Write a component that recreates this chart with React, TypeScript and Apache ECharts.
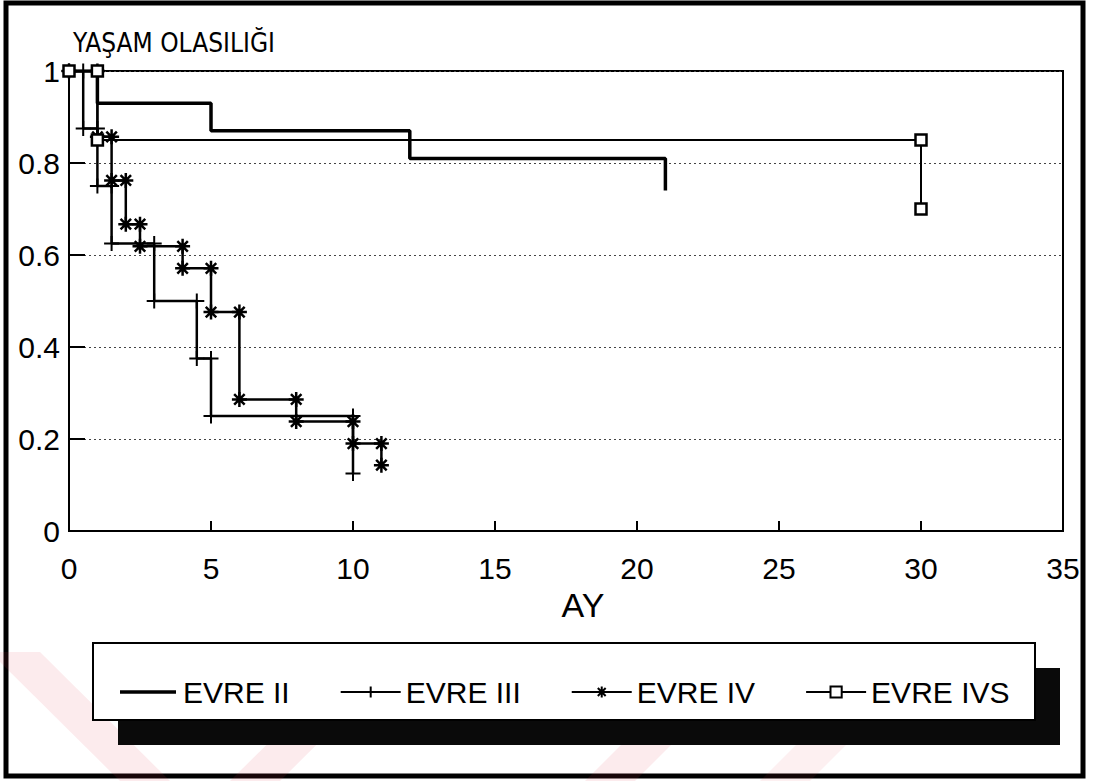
import React, { useEffect, useRef } from "react";
import * as echarts from "echarts";

// Kaplan–Meier survival by stage (months vs. survival probability)
const seriesNames = ["EVRE II", "EVRE III", "EVRE IV", "EVRE IVS"];

const evre2Months = [0, 1, 5, 12, 21];
const evre2Surv = [1, 0.93, 0.87, 0.81, 0.74];

const evre3Months = [0, 0.5, 1, 1.5, 3, 4.5, 5, 10];
const evre3Surv = [1, 0.875, 0.75, 0.625, 0.5, 0.375, 0.25, 0.125];

const evre4Months = [0, 1, 1.5, 2, 2.5, 4, 5, 6, 8, 10, 11];
const evre4Surv = [1, 0.857, 0.762, 0.667, 0.619, 0.571, 0.476, 0.286, 0.238, 0.19, 0.143];

const evre4sMonths = [0, 1, 30];
const evre4sSurv = [1, 0.85, 0.7];

const xTicks = [0, 5, 10, 15, 20, 25, 30, 35];
const yTicks = [0, 0.2, 0.4, 0.6, 0.8, 1];

const FONT = "'Liberation Sans', Arial, Helvetica, sans-serif";
const NARROW = "'Liberation Sans Narrow', 'DejaVu Sans Condensed', 'Liberation Sans', sans-serif";

// Expand event times / survival levels into the corner points of a step curve
function stepPoints(months: number[], surv: number[]): number[][] {
  const pts: number[][] = [[months[0], surv[0]]];
  for (let i = 1; i < months.length; i++) {
    pts.push([months[i], surv[i - 1]]);
    pts.push([months[i], surv[i]]);
  }
  return pts;
}

const PLUS = "path://M6,0L6,12M0,6L12,6";
const STAR = "path://M6,0L6,12M0,6L12,6M1.8,1.8L10.2,10.2M1.8,10.2L10.2,1.8";
// plain thick bar for the legend entry of the unmarked curve (outer moves pad the box)
const BAR = "path://M0,0M0,5.5L60,5.5L60,9.5L0,9.5ZM60,15";

export default function App() {
  const ref = useRef<HTMLDivElement>(null);

  useEffect(() => {
    document.body.style.margin = "0";
    if (!ref.current) return;
    const chart = echarts.init(ref.current, undefined, { renderer: "svg" });

    const option: any = {
      animation: false,
      backgroundColor: "#fff",
      textStyle: { fontFamily: FONT, color: "#000" },
      grid: {
        left: 69,
        top: 71,
        width: 994,
        height: 460,
        show: true,
        borderColor: "#000",
        borderWidth: 2,
        backgroundColor: "transparent",
      },
      xAxis: {
        type: "value",
        min: xTicks[0],
        max: xTicks[xTicks.length - 1],
        interval: 5,
        name: "AY",
        nameLocation: "middle",
        nameGap: 52,
        nameTextStyle: { fontSize: 34, fontFamily: FONT, color: "#000", padding: [0, 0, 0, 34] },
        axisLine: { show: true, lineStyle: { color: "#000", width: 2 } },
        axisTick: { show: true, inside: true, length: 10, lineStyle: { color: "#000", width: 2 } },
        axisLabel: { fontSize: 30, color: "#000", margin: 22, fontFamily: FONT },
        splitLine: { show: false },
      },
      yAxis: {
        type: "value",
        min: yTicks[0],
        max: yTicks[yTicks.length - 1],
        interval: 0.2,
        name: "YAŞAM OLASILIĞI",
        nameLocation: "end",
        nameGap: 28,
        nameTextStyle: {
          fontSize: 26,
          fontFamily: NARROW,
          color: "#000",
          align: "left",
          verticalAlign: "middle",
          padding: [0, 0, 0, 4],
        },
        axisLine: { show: true, lineStyle: { color: "#000", width: 2 } },
        axisTick: { show: true, inside: true, length: 16, lineStyle: { color: "#000", width: 2 } },
        axisLabel: {
          fontSize: 30,
          color: "#000",
          margin: 9,
          fontFamily: FONT,
          formatter: (v: number) => (v === 0 ? "0" : v === 1 ? "1" : v.toFixed(1)),
        },
        splitLine: { show: true, lineStyle: { color: "#444", width: 1, type: [2, 3] } },
      },
      legend: {
        data: [
          { name: seriesNames[0], icon: BAR },
          { name: seriesNames[1] },
          { name: seriesNames[2] },
          { name: seriesNames[3] },
        ],
        left: 120,
        top: 677,
        padding: 0,
        itemWidth: 60,
        itemHeight: 14,
        itemGap: 50,
        z: 10,
        textStyle: { fontSize: 30, fontFamily: FONT, color: "#000" },
      },
      series: [
        {
          name: seriesNames[0],
          type: "line",
          data: stepPoints(evre2Months, evre2Surv),
          symbol: "none",
          lineStyle: { color: "#000", width: 3.5 },
          itemStyle: { color: "#000" },
          z: 3,
        },
        {
          name: seriesNames[1],
          type: "line",
          data: stepPoints(evre3Months, evre3Surv),
          symbol: PLUS,
          symbolSize: 15,
          lineStyle: { color: "#000", width: 2.5 },
          itemStyle: { color: "#000", borderColor: "#000", borderWidth: 2 },
          z: 3,
        },
        {
          name: seriesNames[2],
          type: "line",
          data: stepPoints(evre4Months, evre4Surv),
          symbol: STAR,
          symbolSize: 15,
          lineStyle: { color: "#000", width: 2.5 },
          itemStyle: { color: "#000", borderColor: "#000", borderWidth: 2.5 },
          z: 4,
        },
        {
          name: seriesNames[3],
          type: "line",
          data: stepPoints(evre4sMonths, evre4sSurv),
          symbol: "rect",
          symbolSize: 11,
          lineStyle: { color: "#000", width: 2 },
          itemStyle: { color: "#fff", borderColor: "#000", borderWidth: 2.5 },
          z: 5,
        },
      ],
      graphic: [
        {
          type: "rect",
          z: 0,
          silent: true,
          shape: { x: 6, y: 3, width: 1077, height: 773 },
          style: { fill: "none", stroke: "#000", lineWidth: 5 },
        },
        {
          type: "rect",
          z: 1,
          silent: true,
          shape: { x: 118, y: 668, width: 942, height: 77 },
          style: { fill: "#0a0a0a" },
        },
        {
          type: "rect",
          z: 2,
          silent: true,
          shape: { x: 93, y: 643, width: 942, height: 77 },
          style: { fill: "#fff", stroke: "#000", lineWidth: 2 },
        },
        // faint diagonal bands across the lower margin
        {
          type: "group",
          z: 100,
          silent: true,
          children: [
            { type: "polygon", shape: { points: [[-10, 652], [40, 652], [170, 781], [120, 781]] }, style: { fill: "rgba(225,60,80,0.10)" } },
            { type: "polygon", shape: { points: [[230, 781], [280, 781], [410, 652], [360, 652]] }, style: { fill: "rgba(225,60,80,0.10)" } },
            { type: "polygon", shape: { points: [[585, 781], [635, 781], [764, 652], [714, 652]] }, style: { fill: "rgba(225,60,80,0.10)" } },
            { type: "polygon", shape: { points: [[760, 781], [810, 781], [939, 652], [889, 652]] }, style: { fill: "rgba(225,60,80,0.08)" } },
          ],
        },
      ],
    };

    chart.setOption(option);
    return () => chart.dispose();
  }, []);

  return <div ref={ref} style={{ width: 1093, height: 781 }} />;
}
